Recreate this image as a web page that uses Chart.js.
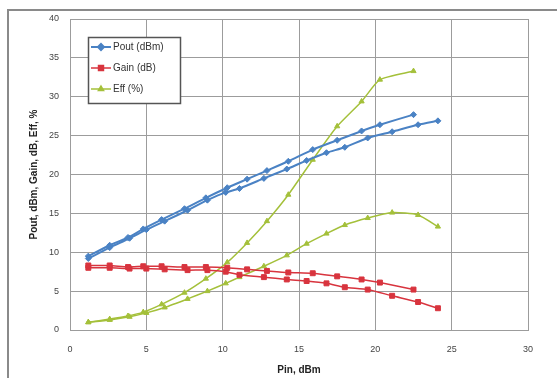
<!DOCTYPE html>
<html>
<head>
<meta charset="utf-8">
<script src="https://cdn.jsdelivr.net/npm/chart.js@4/dist/chart.umd.min.js"></script>
<style>
  html, body { margin: 0; padding: 0; background: #fff; }
  #wrap { width: 557px; height: 378px; }
</style>
</head>
<body>
<div id="wrap"><canvas id="grafik" width="557" height="378"></canvas></div>
<script>
  // sweep 1
  var pinA  = [1.2, 2.6, 3.8, 4.8, 6.0, 7.5, 8.9, 10.3, 11.6, 12.9, 14.3, 15.9, 17.5, 19.1, 20.3, 22.5];
  var poutA = [9.5, 10.9, 11.9, 13.0, 14.2, 15.6, 17.0, 18.3, 19.4, 20.5, 21.7, 23.2, 24.4, 25.6, 26.4, 27.7];
  var gainA = [8.3, 8.3, 8.1, 8.2, 8.2, 8.1, 8.1, 8.0, 7.8, 7.6, 7.4, 7.3, 6.9, 6.5, 6.1, 5.2];
  var effA  = [1.0, 1.4, 1.8, 2.3, 3.3, 4.8, 6.6, 8.7, 11.2, 14.0, 17.4, 21.9, 26.2, 29.4, 32.2, 33.3];

  // sweep 2
  var pinB  = [1.2, 2.6, 3.9, 5.0, 6.2, 7.7, 9.0, 10.2, 11.1, 12.7, 14.2, 15.5, 16.8, 18.0, 19.5, 21.1, 22.8, 24.1];
  var poutB = [9.2, 10.6, 11.8, 12.9, 14.0, 15.4, 16.7, 17.7, 18.2, 19.5, 20.7, 21.8, 22.8, 23.5, 24.7, 25.5, 26.4, 26.9];
  var gainB = [8.0, 8.0, 7.9, 7.9, 7.8, 7.7, 7.7, 7.5, 7.1, 6.8, 6.5, 6.3, 6.0, 5.5, 5.2, 4.4, 3.6, 2.8];
  var effB  = [1.0, 1.3, 1.7, 2.2, 2.9, 4.0, 5.0, 6.0, 6.8, 8.2, 9.6, 11.1, 12.4, 13.5, 14.4, 15.1, 14.8, 13.3];

  var legendLabels = ["Pout (dBm)", "Gain (dB)", "Eff (%)"];
  var xTicks = [0, 5, 10, 15, 20, 25, 30];
  var yTicks = [0, 5, 10, 15, 20, 25, 30, 35, 40];

  var biru = "#4a82c4";
  var merah = "#d8343e";
  var hijau = "#a4c03a";

  function titik(xs, ys) {
    return xs.map(function(x, i) { return { x: x, y: ys[i] }; });
  }

  var gaya = [
    { warna: biru,  bentuk: "rectRot",  r: 3,   lebar: 2 },
    { warna: merah, bentuk: "rect",     r: 3.5, lebar: 1.5 },
    { warna: hijau, bentuk: "triangle", r: 3,   lebar: 1.5 }
  ];

  function seri(label, data, g) {
    return {
      label: label,
      data: data,
      borderColor: g.warna,
      backgroundColor: g.warna,
      borderWidth: g.lebar,
      pointStyle: g.bentuk,
      pointRadius: g.r,
      pointBorderWidth: 1,
      tension: 0.2
    };
  }

  var datasets = [
    seri(legendLabels[0], titik(pinA, poutA), gaya[0]),
    seri(legendLabels[0], titik(pinB, poutB), gaya[0]),
    seri(legendLabels[1], titik(pinA, gainA), gaya[1]),
    seri(legendLabels[1], titik(pinB, gainB), gaya[1]),
    seri(legendLabels[2], titik(pinA, effA), gaya[2]),
    seri(legendLabels[2], titik(pinB, effB), gaya[2])
  ];

  // frame + legend box drawn on the canvas
  var bingkai = {
    id: "bingkai",
    beforeDraw: function(chart) {
      var ctx = chart.ctx;
      ctx.save();
      ctx.strokeStyle = "#8a8a8a";
      ctx.lineWidth = 2;
      ctx.beginPath();
      ctx.moveTo(8, 378);
      ctx.lineTo(8, 10);
      ctx.lineTo(557, 10);
      ctx.stroke();
      ctx.restore();
    },
    afterDraw: function(chart) {
      var ctx = chart.ctx;
      ctx.save();
      ctx.fillStyle = "#fff";
      ctx.fillRect(88, 37, 93, 66);
      ctx.strokeStyle = "#555";
      ctx.lineWidth = 1.5;
      ctx.strokeRect(88.5, 37.5, 92, 66);
      var ys = [47, 68, 89];
      ctx.font = "10px 'Liberation Sans', Arial, sans-serif";
      ctx.textBaseline = "middle";
      legendLabels.forEach(function(t, i) {
        var g = gaya[i];
        ctx.strokeStyle = g.warna;
        ctx.fillStyle = g.warna;
        ctx.lineWidth = g.lebar;
        ctx.beginPath();
        ctx.moveTo(91, ys[i]);
        ctx.lineTo(111, ys[i]);
        ctx.stroke();
        Chart.helpers.drawPoint(ctx, { pointStyle: g.bentuk, radius: g.r, rotation: 0, borderWidth: 1 }, 101, ys[i]);
        ctx.fillStyle = "#333";
        ctx.fillText(t, 113, ys[i] + 0.5);
      });
      ctx.restore();
    }
  };

  var ctx = document.getElementById("grafik").getContext("2d");

  new Chart(ctx, {
    type: "line",
    data: { datasets: datasets },
    plugins: [bingkai],
    options: {
      responsive: false,
      animation: false,
      layout: { padding: { left: 0, top: 19, right: 29, bottom: 0 } },
      plugins: {
        legend: { display: false },
        tooltip: { enabled: false }
      },
      scales: {
        x: {
          type: "linear",
          min: 0,
          max: 30,
          afterBuildTicks: function(s) { s.ticks = xTicks.map(function(v) { return { value: v }; }); },
          afterFit: function(s) { s.height = 48; },
          grid: { color: "#9c9c9c", lineWidth: 1, drawTicks: false },
          border: { color: "#9c9c9c" },
          ticks: { padding: 14, color: "#444", font: { size: 9, family: "'Liberation Sans', Arial, sans-serif" }, maxRotation: 0 },
          title: {
            display: true,
            text: "Pin, dBm",
            color: "#222",
            padding: { top: 0, bottom: 2 },
            font: { size: 10, weight: "bold", family: "'Liberation Sans', Arial, sans-serif" }
          }
        },
        y: {
          type: "linear",
          min: 0,
          max: 40,
          afterBuildTicks: function(s) { s.ticks = yTicks.map(function(v) { return { value: v }; }); },
          afterFit: function(s) { s.width = 70; },
          grid: { color: "#9c9c9c", lineWidth: 1, drawTicks: false },
          border: { color: "#9c9c9c" },
          ticks: { padding: 11, color: "#444", font: { size: 9, family: "'Liberation Sans', Arial, sans-serif" } },
          title: {
            display: true,
            text: "Pout, dBm, Gain, dB, Eff, %",
            color: "#222",
            padding: { top: 28, bottom: 0 },
            font: { size: 10, weight: "bold", family: "'Liberation Sans', Arial, sans-serif" }
          }
        }
      }
    }
  });
</script>
</body>
</html>
